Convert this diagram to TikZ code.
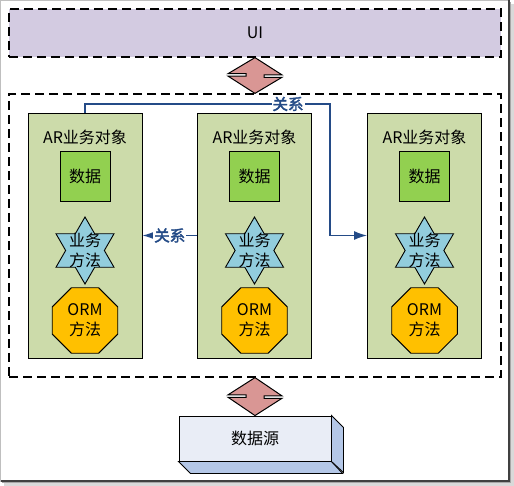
\documentclass[tikz,border=0pt]{standalone}
\usepackage{fontspec}
\setmainfont{Noto Sans CJK SC}[AutoFakeBold=2.5]
\usetikzlibrary{shapes.geometric,arrows.meta}
\definecolor{uipurple}{RGB}{211,203,225}
\definecolor{arpink}{RGB}{217,150,148}
\definecolor{boxgreen}{RGB}{204,219,170}
\definecolor{datagreen}{RGB}{146,208,80}
\definecolor{starblue}{RGB}{146,205,221}
\definecolor{ormorange}{RGB}{255,192,0}
\definecolor{relblue}{RGB}{36,75,135}
\definecolor{dsfront}{RGB}{233,237,246}
\definecolor{dsside}{RGB}{180,199,231}

\begin{document}
\begin{tikzpicture}[x=1pt, y=-1pt, font=\fontsize{16}{20}\selectfont,
    dashbox/.style={draw, line width=1.2pt, dash pattern=on 9pt off 5pt, inner sep=0pt},
    objbox/.style={draw, line width=0.9pt, fill=boxgreen, minimum width=114pt, minimum height=245pt, inner sep=0pt},
    databox/.style={draw, line width=0.9pt, fill=datagreen, minimum size=50pt, inner sep=0pt},
    methstar/.style={draw, line width=0.9pt, fill=starblue, star, star points=6, star point ratio=1.732, minimum size=67pt, inner sep=0pt},
    ormshape/.style={draw, line width=0.9pt, fill=ormorange, regular polygon, regular polygon sides=8, minimum size=71pt, inner sep=0pt},
    twolines/.style={align=center, inner sep=0pt},
    rel/.style={draw=relblue, line width=1.4pt, -{Latex[length=13pt,width=9pt]}},
    rellabel/.style={fill=white, text=relblue, font=\fontsize{15.5}{17}\selectfont\bfseries, inner sep=1pt},
    bothway/.style={draw, line width=1pt, fill=arpink}]

            \useasboundingbox (0,0) rectangle (514,486);

            %frame and its shadow
            \fill[black!15] (4,4) rectangle (514,486);
            \fill[black!35] (2,2) rectangle (511,483);
            \filldraw[fill=white, draw=black!25] (0.5,0.5) rectangle (509,481);
            \draw[black!75, line width=1.2pt] (509,0.5) -- (509,481) -- (0.5,481);

            \node[dashbox, fill=uipurple, minimum width=492pt, minimum height=48pt] (ui) at (255,33) {UI};
            \node[dashbox, minimum width=492pt, minimum height=283pt] (layer) at (255,235.5) {};

            %first object
            \node[objbox] (ob1) at (85,235.5) {};
            \node (tt1) at (85,137) {AR业务对象};
            \node[databox] (da1) at (85,176) {数据};
            \node[methstar] (st1) at (85,250.5) {};
            \node[twolines] (sm1) at (85,250.5) {业务\\方法};
            \node[ormshape] (om1) at (85,320.5) {};
            \node[twolines] (ot1) at (85,320.5) {ORM\\方法};

            %second object
            \node[objbox] (ob2) at (254.5,235.5) {};
            \node (tt2) at (254.5,137) {AR业务对象};
            \node[databox] (da2) at (254.5,176) {数据};
            \node[methstar] (st2) at (254.5,250.5) {};
            \node[twolines] (sm2) at (254.5,250.5) {业务\\方法};
            \node[ormshape] (om2) at (254.5,320.5) {};
            \node[twolines] (ot2) at (254.5,320.5) {ORM\\方法};

            %third object
            \node[objbox] (ob3) at (424.5,235.5) {};
            \node (tt3) at (424.5,137) {AR业务对象};
            \node[databox] (da3) at (424.5,176) {数据};
            \node[methstar] (st3) at (424.5,250.5) {};
            \node[twolines] (sm3) at (424.5,250.5) {业务\\方法};
            \node[ormshape] (om3) at (424.5,320.5) {};
            \node[twolines] (ot3) at (424.5,320.5) {ORM\\方法};

            %relations between the objects
            \coordinate (bend) at (330,104);
            \draw[rel] (ob1.north) |- (bend) |- (ob3.west);
            \node[rellabel] (rl1) at (288,104) {关系};
            \draw[rel] (ob2.west) -- (ob1.east) node[rellabel, midway] (rl2) {关系};

            %data source
            \node[draw, line width=0.9pt, fill=dsfront, minimum width=152pt, minimum height=45pt] (ds) at (255,438.5) {数据源};
            \filldraw[fill=dsside, line width=0.9pt] (ds.south west) -- ++(12,12) -- ++(152,0) -- (ds.south east) -- cycle;
            \filldraw[fill=dsside, line width=0.9pt] (ds.north east) -- ++(12,12) -- ++(0,45) -- (ds.south east) -- cycle;

            %two way arrows
            \draw[bothway] (ui.south) -- ++(27,17.3) -- ++(-18,0) -- ++(0,2.4) -- ++(18,0) -- (layer.north) -- ++(-27,-17.3) -- ++(18,0) -- ++(0,-2.4) -- ++(-18,0) -- cycle;
            \draw[bothway] (layer.south) -- ++(27,18.3) -- ++(-18,0) -- ++(0,2.4) -- ++(18,0) -- (ds.north) -- ++(-27,-18.3) -- ++(18,0) -- ++(0,-2.4) -- ++(-18,0) -- cycle;

        \end{tikzpicture}
\end{document}
